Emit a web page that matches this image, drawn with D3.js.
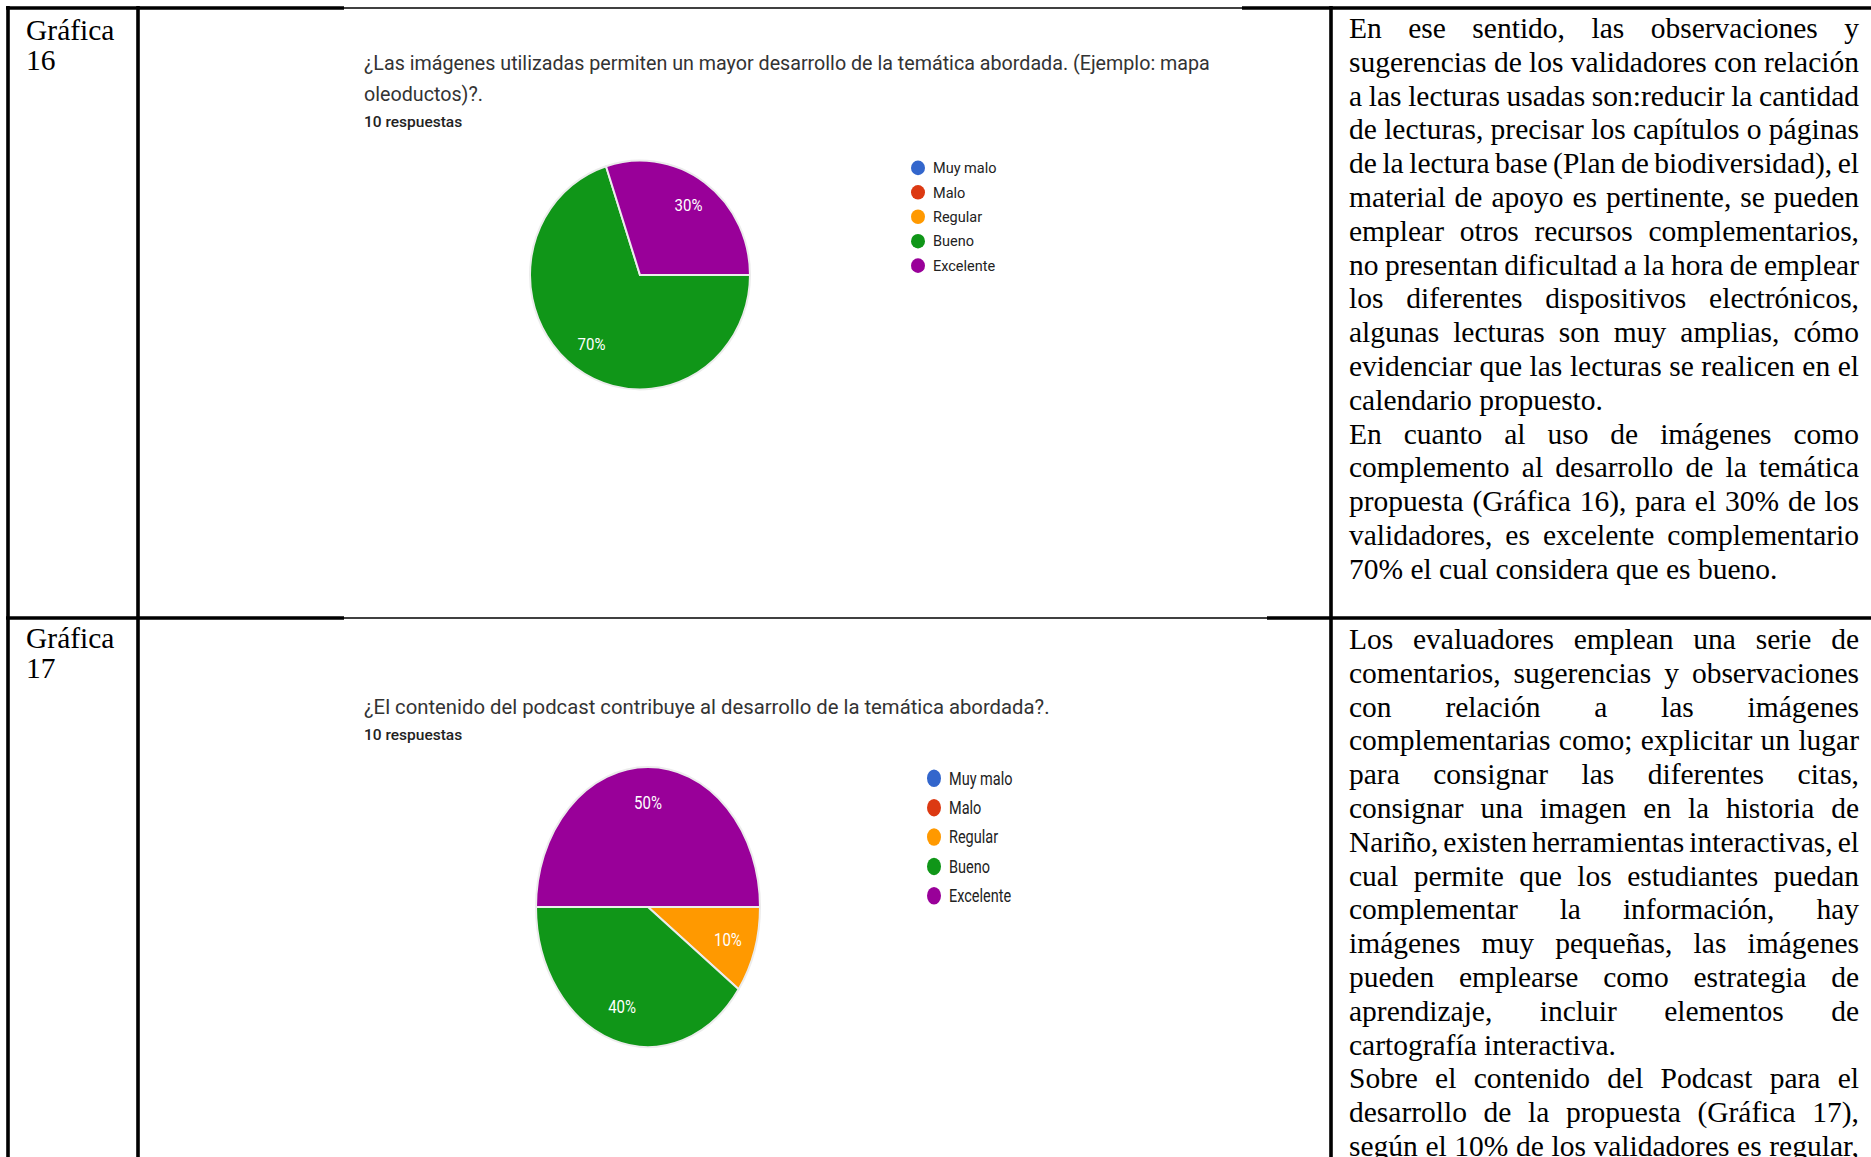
<!DOCTYPE html>
<html>
<head>
<meta charset="utf-8">
<script src="https://cdn.jsdelivr.net/npm/d3@7"></script>
<style>
  html, body { margin: 0; padding: 0; background: #fff; }
  svg { display: block; }
</style>
</head>
<body>
<svg id="page" width="1871" height="1157"></svg>
<script>
// ---- data ----
const categories = ["Muy malo", "Malo", "Regular", "Bueno", "Excelente"];
const sliceColors = ["#3366cc", "#dc3912", "#ff9900", "#109618", "#990099"];

// responses per category (10 respuestas each)
const grafica16Values = [0, 0, 0, 7, 3];
const grafica17Values = [0, 0, 1, 4, 5];

const grafica16Question = [
  "¿Las imágenes utilizadas permiten un mayor desarrollo de la temática abordada. (Ejemplo: mapa",
  "oleoductos)?."
];
const grafica17Question = [
  "¿El contenido del podcast contribuye al desarrollo de la temática abordada?."
];
const responsesLabel = "10 respuestas";

const rowLabels = [["Gráfica", "16"], ["Gráfica", "17"]];

const row1Lines = [
  "En ese sentido, las observaciones y",
  "sugerencias de los validadores con relación",
  "a las lecturas usadas son:reducir la cantidad",
  "de lecturas, precisar los capítulos o páginas",
  "de la lectura base (Plan de biodiversidad), el",
  "material de apoyo es pertinente, se pueden",
  "emplear otros recursos complementarios,",
  "no presentan dificultad a la hora de emplear",
  "los diferentes dispositivos electrónicos,",
  "algunas lecturas son muy amplias, cómo",
  "evidenciar que las lecturas se realicen en el",
  "calendario propuesto.",
  "En cuanto al uso de imágenes como",
  "complemento al desarrollo de la temática",
  "propuesta (Gráfica 16), para el 30% de los",
  "validadores, es excelente complementario",
  "70% el cual considera que es bueno."
];
const row1ParagraphEnds = [11, 16];

const row2Lines = [
  "Los evaluadores emplean una serie de",
  "comentarios, sugerencias y observaciones",
  "con relación a las imágenes",
  "complementarias como; explicitar un lugar",
  "para consignar las diferentes citas,",
  "consignar una imagen en la historia de",
  "Nariño, existen herramientas interactivas, el",
  "cual permite que los estudiantes puedan",
  "complementar la información, hay",
  "imágenes muy pequeñas, las imágenes",
  "pueden emplearse como estrategia de",
  "aprendizaje, incluir elementos de",
  "cartografía interactiva.",
  "Sobre el contenido del Podcast para el",
  "desarrollo de la propuesta (Gráfica 17),",
  "según el 10% de los validadores es regular,"
];
const row2ParagraphEnds = [12];

// ---- layout ----
const W = 1871, H = 1157;
const svg = d3.select("#page");
svg.append("rect").attr("width", W).attr("height", H).attr("fill", "#fff");

const grid = {
  left: 8, col1: 138, col2: 1331, top: 8, row: 618,
  thick: 3.6, thin: 1.4,
  imgLeft: 344, topImgRight: 1242, rowImgRight: 1267
};

const serif = "'Liberation Serif', 'Times New Roman', serif";
const sans = "Roboto, Arial, sans-serif";
const bodySize = 29.5, bodyLead = 33.8;

// ---- Google-Forms style pie summaries ----
function drawForm(cfg) {
  // question title and response count
  cfg.question.forEach((line, i) => {
    svg.append("text")
      .attr("x", cfg.textX)
      .attr("y", cfg.questionY[i])
      .attr("font-family", sans)
      .attr("font-size", cfg.questionSize)
      .attr("fill", "#333")
      .text(line);
  });
  svg.append("text")
    .attr("x", cfg.textX)
    .attr("y", cfg.responsesY)
    .attr("font-family", sans)
    .attr("font-size", 15.5)
    .attr("font-weight", 500)
    .attr("fill", "#222")
    .text(responsesLabel);

  const g = svg.append("g")
    .attr("transform", `translate(${cfg.cx},${cfg.cy}) scale(1,${cfg.sy})`);

  const data = categories.map((c, i) => ({ cat: c, color: sliceColors[i], value: cfg.values[i] }));
  const total = d3.sum(data, d => d.value);

  const pie = d3.pie()
    .sort(null)
    .value(d => d.value)
    .startAngle(Math.PI / 2)
    .endAngle(Math.PI / 2 + 2 * Math.PI);
  const arcs = pie(data).filter(a => a.data.value > 0);

  const arc = d3.arc().innerRadius(0).outerRadius(cfg.r);
  const labelArc = d3.arc().innerRadius(cfg.r * 0.75).outerRadius(cfg.r * 0.75);

  g.selectAll("path.slice")
    .data(arcs)
    .join("path")
    .attr("class", "slice")
    .attr("d", arc)
    .attr("fill", d => d.data.color)
    .attr("stroke", "#ececec")
    .attr("stroke-width", 2)
    .attr("vector-effect", "non-scaling-stroke");

  const pct = d3.format(".0%");
  g.selectAll("text.pct")
    .data(arcs)
    .join("text")
    .attr("class", "pct")
    .attr("x", d => labelArc.centroid(d)[0])
    .attr("y", d => labelArc.centroid(d)[1])
    .attr("dy", "0.35em")
    .attr("text-anchor", "middle")
    .attr("font-family", sans)
    .attr("font-size", 15)
    .attr("fill", "#fff")
    .text(d => pct(d.data.value / total));

  // legend
  const lg = g.append("g").attr("transform", `translate(${cfg.legendX - cfg.cx},${cfg.legendTop})`);
  const rows = lg.selectAll("g")
    .data(data)
    .join("g")
    .attr("transform", (d, i) => `translate(0,${i * cfg.legendStep})`);
  rows.append("circle")
    .attr("r", 7)
    .attr("fill", d => d.color);
  rows.append("text")
    .attr("x", 15)
    .attr("dy", "0.35em")
    .attr("font-family", sans)
    .attr("font-size", 14.5)
    .attr("fill", "#222")
    .text(d => d.cat);
}

drawForm({
  textX: 364, questionY: [70, 101], questionSize: 19.7, responsesY: 127,
  cx: 640, cy: 275, r: 110, sy: 1.04,
  legendX: 918, legendTop: -103, legendStep: 23.5,
  values: grafica16Values, question: grafica16Question
});
drawForm({
  textX: 364, questionY: [714], questionSize: 20.3, responsesY: 740,
  cx: 648, cy: 907, r: 112, sy: 1.25,
  legendX: 934, legendTop: -103, legendStep: 23.5,
  values: grafica17Values, question: grafica17Question
});

// ---- table borders ----
function hline(y, x1, x2, w) {
  svg.append("line").attr("x1", x1).attr("x2", x2).attr("y1", y).attr("y2", y)
    .attr("stroke", "#000").attr("stroke-width", w);
}
function vline(x, y1, y2, w) {
  svg.append("line").attr("x1", x).attr("x2", x).attr("y1", y1).attr("y2", y2)
    .attr("stroke", "#000").attr("stroke-width", w);
}
hline(grid.top, grid.left - 2, grid.imgLeft, grid.thick);
hline(grid.top, grid.imgLeft, grid.topImgRight, grid.thin);
hline(grid.top, grid.topImgRight, W, grid.thick);
hline(grid.row, grid.left - 2, grid.imgLeft, grid.thick);
hline(grid.row, grid.imgLeft, grid.rowImgRight, grid.thin);
hline(grid.row, grid.rowImgRight, W, grid.thick);
vline(grid.left, grid.top - 2, H, grid.thick);
vline(grid.col1, grid.top - 2, H, grid.thick);
vline(grid.col2, grid.top - 2, H, grid.thick);

// ---- first column labels ----
rowLabels.forEach((lines, r) => {
  const y0 = r === 0 ? 40 : 648;
  lines.forEach((t, i) => {
    svg.append("text")
      .attr("x", 26).attr("y", y0 + i * 30)
      .attr("font-family", serif).attr("font-size", bodySize)
      .attr("fill", "#000").text(t);
  });
});

// ---- justified commentary text ----
function drawJustified(lines, paragraphEnds, x0, x1, y0) {
  lines.forEach((t, i) => {
    const txt = svg.append("text")
      .attr("x", x0).attr("y", y0 + i * bodyLead)
      .attr("font-family", serif).attr("font-size", bodySize)
      .attr("fill", "#000").attr("xml:space", "preserve")
      .text(t);
    if (!paragraphEnds.includes(i)) {
      const natural = txt.node().getComputedTextLength();
      const gaps = (t.match(/ /g) || []).length;
      if (gaps > 0) txt.attr("word-spacing", (x1 - x0 - natural) / gaps);
    }
  });
}
drawJustified(row1Lines, row1ParagraphEnds, 1349, 1859, 38);
drawJustified(row2Lines, row2ParagraphEnds, 1349, 1859, 649);
</script>
</body>
</html>
